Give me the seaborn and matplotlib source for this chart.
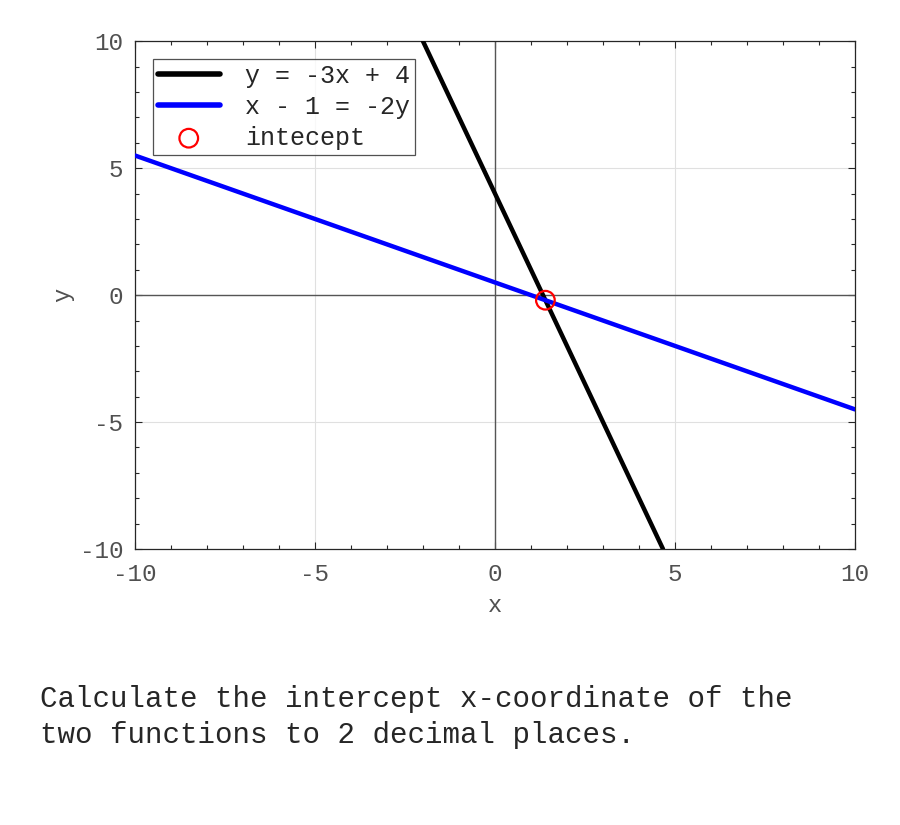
import numpy as np
import pandas as pd
import matplotlib
matplotlib.use("Agg")
import matplotlib.pyplot as plt
import seaborn as sns
from matplotlib.ticker import MultipleLocator

# endpoints of the two lines (clipped to the view) and the intercept
black_x = [-2.0, 4.667]
black_y = [10.0, -10.0]
blue_x = [-10.0, 10.0]
blue_y = [5.5, -4.5]
hit_x = [1.4]
hit_y = [-0.2]

labels = ["y = -3x + 4", "x - 1 = -2y", "intecept"]
question = "Calculate the intercept x-coordinate of the\ntwo functions to 2 decimal places."

sns.set_theme(style="ticks")
plt.rcParams["font.family"] = ["Liberation Mono", "DejaVu Sans Mono"]
plt.rcParams["axes.unicode_minus"] = False

fig = plt.figure(figsize=(9, 8.25), dpi=100)
ax = fig.add_axes([0.15, 0.3345, 0.80, 0.6155])

ax.axhline(0, color="#555555", lw=1.0, zorder=1)
ax.axvline(0, color="#555555", lw=1.0, zorder=1)

sns.lineplot(x=black_x, y=black_y, ax=ax, color="black", lw=3.2, label=labels[0], zorder=3)
sns.lineplot(x=blue_x, y=blue_y, ax=ax, color="blue", lw=3.2, label=labels[1], zorder=3)
sns.scatterplot(x=hit_x, y=hit_y, ax=ax, s=180, facecolor="none", edgecolor="red",
                linewidth=1.6, label=labels[2], zorder=4)

ax.set_xlim(-10, 10)
ax.set_ylim(-10, 10)
ax.xaxis.set_major_locator(MultipleLocator(5))
ax.yaxis.set_major_locator(MultipleLocator(5))
ax.xaxis.set_minor_locator(MultipleLocator(1))
ax.yaxis.set_minor_locator(MultipleLocator(1))
ax.grid(True, which="major", color="#e0e0e0", lw=0.8)
ax.set_axisbelow(True)
ax.tick_params(which="both", direction="in", top=True, right=True, colors="#262626",
               labelcolor="#505050", labelsize=17.5)
ax.tick_params(which="major", length=5, width=0.8)
ax.tick_params(which="minor", length=3, width=0.8)
ax.tick_params(axis="x", which="major", pad=10)
ax.tick_params(axis="y", which="major", pad=8.5)
for s in ax.spines.values():
    s.set_visible(True)
    s.set_color("#262626")
    s.set_linewidth(0.9)

ax.set_xlabel("x", fontsize=17, color="#505050", labelpad=6)
ax.set_ylabel("y", fontsize=17, color="#505050", labelpad=4)

leg = ax.legend(loc="upper left", fontsize=18, frameon=True, fancybox=False,
                handlelength=2.5, borderpad=0.2, labelspacing=0.28, handletextpad=1.0,
                borderaxespad=0.7)
leg.get_frame().set_edgecolor("#262626")
leg.get_frame().set_linewidth(0.9)
for h in leg.legend_handles[:2]:
    h.set_linewidth(4)

fig.text(0.045, 0.092, question, fontsize=21, color="#262626", ha="left", va="bottom",
         linespacing=1.38)

fig.savefig("out.png", dpi=100)
